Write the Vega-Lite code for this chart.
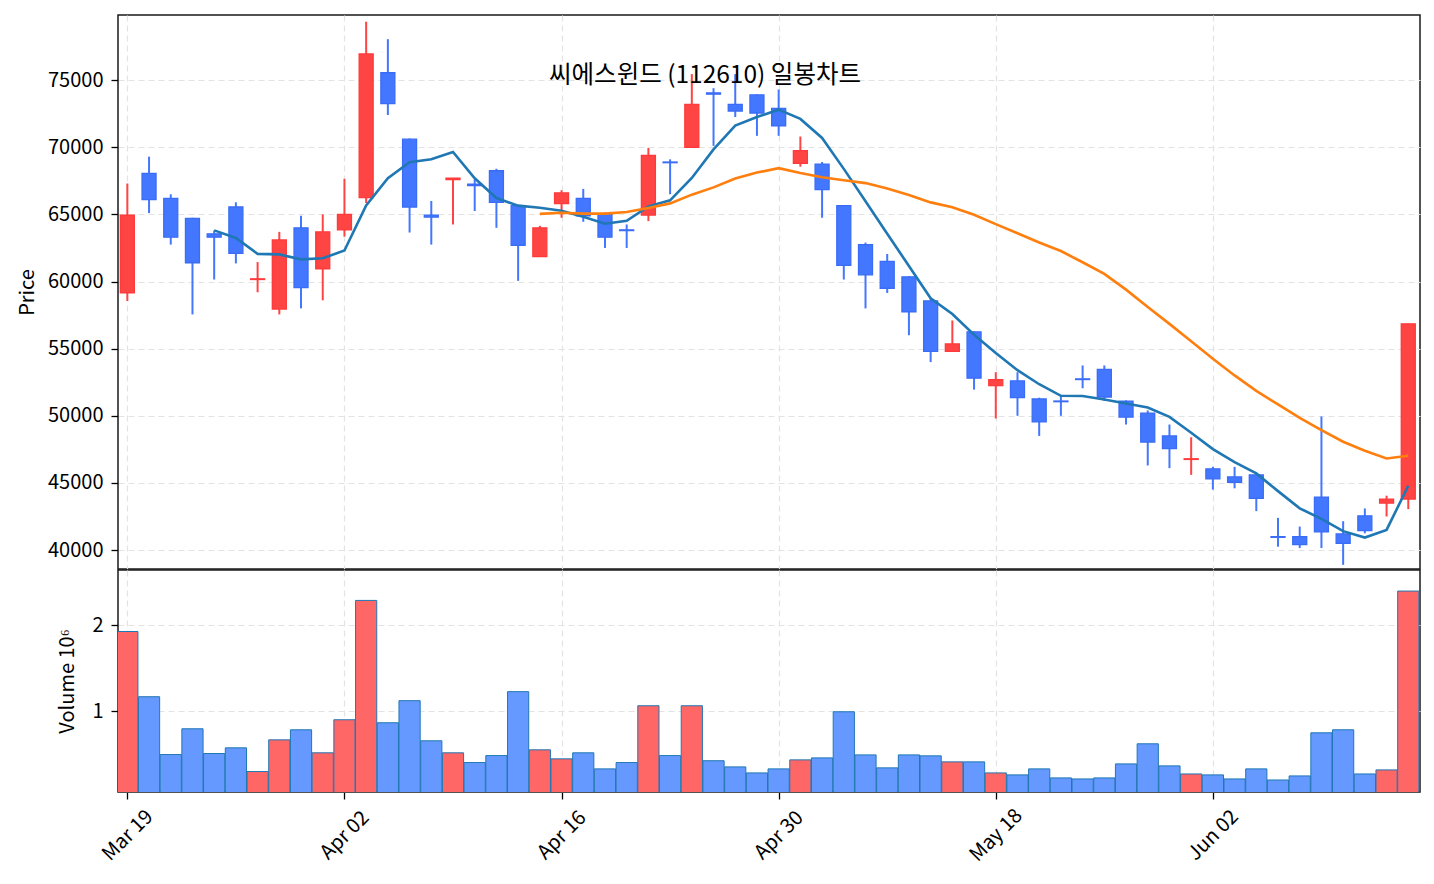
{
  "$schema": "https://vega.github.io/schema/vega-lite/v6.json",
  "background": "white",
  "padding": {"left": 16, "top": 14, "right": 14, "bottom": 10},
  "config": {
    "font": "Noto Sans CJK KR",
    "view": {"stroke": "#1a1a1a", "strokeWidth": 1.5},
    "axis": {
      "labelFont": "Noto Sans CJK KR", "titleFont": "Noto Sans CJK KR",
      "labelFontSize": 20, "titleFontSize": 20, "titleFontWeight": "normal",
      "labelColor": "#000", "titleColor": "#000",
      "tickColor": "#000", "tickSize": 7, "tickWidth": 1.3,
      "domain": false,
      "gridColor": "#e3e3e3", "gridDash": [6, 4], "gridWidth": 1.2,
      "labelPadding": 8
    }
  },
  "datasets": {
    "ohlc": [
      {"i": 0, "o": 59150, "h": 67300, "l": 58550, "c": 64950, "v": 1926000},
      {"i": 1, "o": 68050, "h": 69300, "l": 65100, "c": 66100, "v": 1167000},
      {"i": 2, "o": 66200, "h": 66500, "l": 62750, "c": 63300, "v": 494000},
      {"i": 3, "o": 64700, "h": 64750, "l": 57550, "c": 61400, "v": 794000},
      {"i": 4, "o": 63550, "h": 63800, "l": 60150, "c": 63300, "v": 506000},
      {"i": 5, "o": 65550, "h": 65900, "l": 61350, "c": 62100, "v": 572000},
      {"i": 6, "o": 60150, "h": 61450, "l": 59200, "c": 60200, "v": 296000},
      {"i": 7, "o": 57950, "h": 63700, "l": 57550, "c": 63100, "v": 665000},
      {"i": 8, "o": 64000, "h": 64900, "l": 58000, "c": 59550, "v": 782000},
      {"i": 9, "o": 60950, "h": 65000, "l": 58600, "c": 63700, "v": 514000},
      {"i": 10, "o": 63850, "h": 67650, "l": 63350, "c": 65000, "v": 899000},
      {"i": 11, "o": 66250, "h": 79350, "l": 65850, "c": 76950, "v": 2288000},
      {"i": 12, "o": 75550, "h": 78050, "l": 72400, "c": 73250, "v": 864000},
      {"i": 13, "o": 70600, "h": 70650, "l": 63650, "c": 65550, "v": 1121000},
      {"i": 14, "o": 64950, "h": 66000, "l": 62750, "c": 64800, "v": 654000},
      {"i": 15, "o": 67600, "h": 67700, "l": 64250, "c": 67700, "v": 514000},
      {"i": 16, "o": 67250, "h": 67600, "l": 65250, "c": 67150, "v": 401000},
      {"i": 17, "o": 68250, "h": 68400, "l": 64000, "c": 65900, "v": 482000},
      {"i": 18, "o": 65650, "h": 65700, "l": 60050, "c": 62700, "v": 1226000},
      {"i": 19, "o": 61850, "h": 64150, "l": 61850, "c": 64000, "v": 549000},
      {"i": 20, "o": 65800, "h": 66800, "l": 64750, "c": 66600, "v": 444000},
      {"i": 21, "o": 66200, "h": 66900, "l": 64450, "c": 64900, "v": 514000},
      {"i": 22, "o": 65050, "h": 65150, "l": 62500, "c": 63300, "v": 327000},
      {"i": 23, "o": 63850, "h": 64250, "l": 62500, "c": 63800, "v": 401000},
      {"i": 24, "o": 64950, "h": 69950, "l": 64500, "c": 69400, "v": 1062000},
      {"i": 25, "o": 68900, "h": 69100, "l": 66500, "c": 68850, "v": 482000},
      {"i": 26, "o": 70000, "h": 75450, "l": 70000, "c": 73200, "v": 1062000},
      {"i": 27, "o": 74050, "h": 74400, "l": 70100, "c": 73950, "v": 422000},
      {"i": 28, "o": 73200, "h": 75450, "l": 72250, "c": 72700, "v": 350000},
      {"i": 29, "o": 73900, "h": 73950, "l": 70850, "c": 72550, "v": 280000},
      {"i": 30, "o": 72900, "h": 74300, "l": 70850, "c": 71600, "v": 327000},
      {"i": 31, "o": 68800, "h": 70800, "l": 68550, "c": 69750, "v": 432000},
      {"i": 32, "o": 68750, "h": 68900, "l": 64750, "c": 66850, "v": 455000},
      {"i": 33, "o": 65650, "h": 65650, "l": 60150, "c": 61200, "v": 992000},
      {"i": 34, "o": 62750, "h": 62900, "l": 58000, "c": 60500, "v": 490000},
      {"i": 35, "o": 61500, "h": 62050, "l": 59150, "c": 59500, "v": 339000},
      {"i": 36, "o": 60350, "h": 60400, "l": 56000, "c": 57750, "v": 490000},
      {"i": 37, "o": 58550, "h": 58750, "l": 54000, "c": 54800, "v": 479000},
      {"i": 38, "o": 54800, "h": 57100, "l": 54800, "c": 55350, "v": 409000},
      {"i": 39, "o": 56250, "h": 56300, "l": 51950, "c": 52800, "v": 409000},
      {"i": 40, "o": 52250, "h": 53250, "l": 49800, "c": 52700, "v": 280000},
      {"i": 41, "o": 52600, "h": 53250, "l": 50000, "c": 51350, "v": 257000},
      {"i": 42, "o": 51250, "h": 51350, "l": 48500, "c": 49550, "v": 327000},
      {"i": 43, "o": 51100, "h": 51500, "l": 50000, "c": 51050, "v": 222000},
      {"i": 44, "o": 52750, "h": 53750, "l": 52050, "c": 52700, "v": 210000},
      {"i": 45, "o": 53450, "h": 53750, "l": 51100, "c": 51400, "v": 222000},
      {"i": 46, "o": 51100, "h": 51150, "l": 49350, "c": 49900, "v": 385000},
      {"i": 47, "o": 50200, "h": 50400, "l": 46300, "c": 48050, "v": 619000},
      {"i": 48, "o": 48500, "h": 49350, "l": 46100, "c": 47550, "v": 362000},
      {"i": 49, "o": 46750, "h": 48400, "l": 45600, "c": 46800, "v": 268000},
      {"i": 50, "o": 46050, "h": 46200, "l": 44500, "c": 45300, "v": 257000},
      {"i": 51, "o": 45450, "h": 46200, "l": 44600, "c": 45050, "v": 210000},
      {"i": 52, "o": 45600, "h": 45700, "l": 42900, "c": 43850, "v": 327000},
      {"i": 53, "o": 41000, "h": 42400, "l": 40250, "c": 40950, "v": 198000},
      {"i": 54, "o": 41000, "h": 41750, "l": 40150, "c": 40400, "v": 245000},
      {"i": 55, "o": 43950, "h": 49950, "l": 40150, "c": 41350, "v": 747000},
      {"i": 56, "o": 41200, "h": 42150, "l": 38900, "c": 40500, "v": 782000},
      {"i": 57, "o": 42550, "h": 43100, "l": 41250, "c": 41450, "v": 268000},
      {"i": 58, "o": 43500, "h": 44050, "l": 42500, "c": 43800, "v": 315000},
      {"i": 59, "o": 43800, "h": 56850, "l": 43050, "c": 56850, "v": 2397000}
    ]
  },
  "spacing": -1.5,
  "vconcat": [
    {
      "width": 1302,
      "height": 554,
      "title": {"text": "씨에스윈드 (112610) 일봉차트", "font": "Noto Sans CJK KR", "fontSize": 24.5, "fontWeight": "normal", "color": "#000", "anchor": "middle", "offset": 0, "dx": -64, "dy": 73},
      "data": {"name": "ohlc"},
      "encoding": {
        "x": {"field": "i", "type": "quantitative", "scale": {"domain": [-0.43, 59.54], "nice": false, "zero": false, "padding": 0},
              "axis": {"values": [0, 10, 20, 30, 40, 50], "labels": false, "ticks": false, "title": null, "grid": true, "minExtent": 0, "maxExtent": 0}}
      },
      "layer": [
        {
          "mark": {"type": "rule", "strokeWidth": 2},
          "encoding": {
            "y": {"field": "l", "type": "quantitative", "title": "Price",
                  "scale": {"domain": [38590, 79850], "nice": false, "zero": false},
                  "axis": {"values": [40000, 45000, 50000, 55000, 60000, 65000, 70000, 75000], "format": "d", "titlePadding": 10, "grid": true}},
            "y2": {"field": "h"},
            "color": {"condition": {"test": "datum.c >= datum.o", "value": "#ff4444"}, "value": "#4477ff"}
          }
        },
        {
          "mark": {"type": "bar", "width": 14, "strokeWidth": 1.3},
          "encoding": {
            "y": {"field": "o", "type": "quantitative", "title": "Price"},
            "y2": {"field": "c"},
            "fill": {"condition": {"test": "datum.c >= datum.o", "value": "#ff4444"}, "value": "#4477ff"},
            "stroke": {"condition": {"test": "datum.c >= datum.o", "value": "#ff3a3a"}, "value": "#3a6cf5"}
          }
        },
        {
          "transform": [
            {"window": [{"op": "mean", "field": "c", "as": "ma5"}, {"op": "count", "field": "c", "as": "n5"}], "frame": [-4, 0], "sort": [{"field": "i"}]},
            {"filter": "datum.n5 >= 5"}
          ],
          "mark": {"type": "line", "color": "#1f77b4", "strokeWidth": 2.6},
          "encoding": {"y": {"field": "ma5", "type": "quantitative", "title": "Price"}}
        },
        {
          "transform": [
            {"window": [{"op": "mean", "field": "c", "as": "ma20"}, {"op": "count", "field": "c", "as": "n20"}], "frame": [-19, 0], "sort": [{"field": "i"}]},
            {"filter": "datum.n20 >= 20"}
          ],
          "mark": {"type": "line", "color": "#ff7f0e", "strokeWidth": 2.6},
          "encoding": {"y": {"field": "ma20", "type": "quantitative", "title": "Price"}}
        }
      ]
    },
    {
      "width": 1302,
      "height": 222,
      "data": {"name": "ohlc"},
      "mark": {"type": "bar", "width": 21.2, "stroke": "#1f77b4", "strokeWidth": 1, "clip": true},
      "encoding": {
        "x": {"field": "i", "type": "quantitative", "scale": {"domain": [-0.43, 59.54], "nice": false, "zero": false, "padding": 0},
              "axis": {"values": [0, 10, 20, 30, 40, 50], "title": null, "grid": true,
                       "labelExpr": "datum.value == 0 ? 'Mar 19' : datum.value == 10 ? 'Apr 02' : datum.value == 20 ? 'Apr 16' : datum.value == 30 ? 'Apr 30' : datum.value == 40 ? 'May 18' : 'Jun 02'",
                       "labelAngle": -45, "labelAlign": "center", "labelBaseline": "middle", "labelPadding": 36}},
        "y": {"field": "v", "type": "quantitative", "title": "Volume  10⁶",
              "scale": {"domain": [58000, 2642000], "nice": false, "zero": false},
              "axis": {"values": [1000000, 2000000], "labelExpr": "datum.value / 1000000", "titlePadding": 14, "grid": true}},
        "fill": {"condition": {"test": "datum.c >= datum.o", "value": "#ff6666"}, "value": "#6699ff"}
      }
    }
  ]
}
